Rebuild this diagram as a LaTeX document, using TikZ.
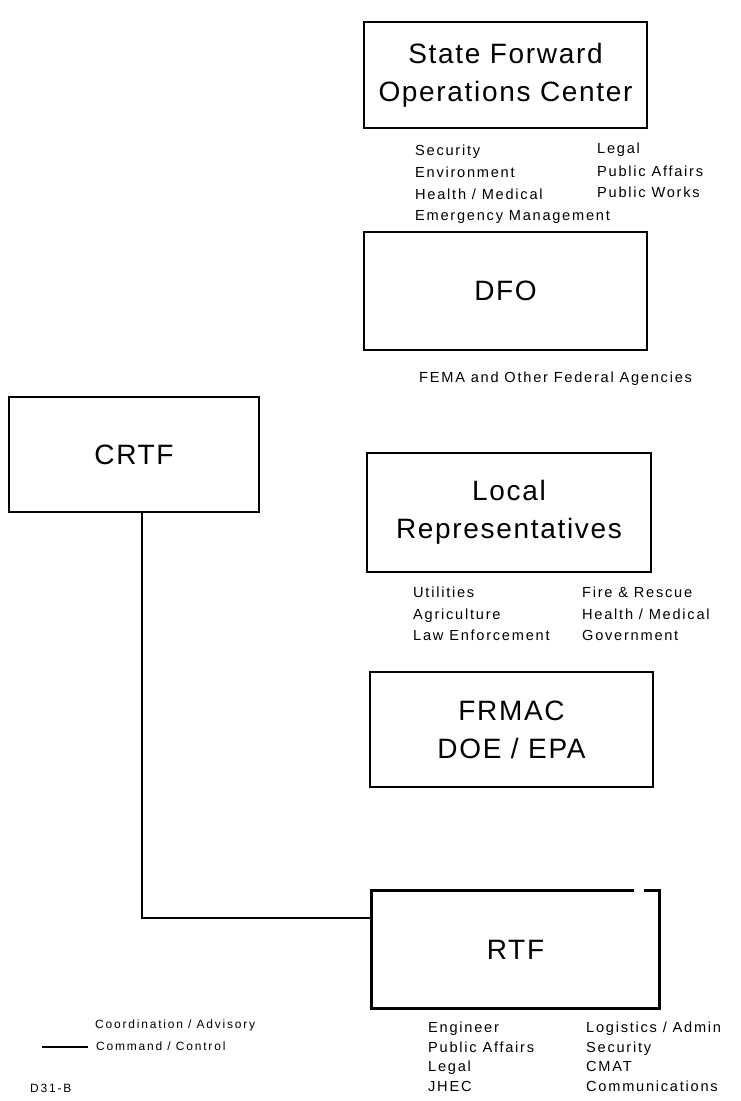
\documentclass[tikz,border=0pt]{standalone}
\usepackage{fontspec}
\setmainfont{Liberation Sans}
\newfontfamily\titlefont[LetterSpace=6]{Liberation Sans}
\newfontfamily\notefont[LetterSpace=12]{Liberation Sans}
\newfontfamily\legendfont[LetterSpace=15]{Liberation Sans}

\tikzset{
  unit/.style={draw, line width=2.8pt, inner sep=0pt, align=center,
    font=\titlefont\fontsize{28}{38}\selectfont},
  unitbare/.style={unit, draw=none},
  note/.style={anchor=base west, inner sep=0pt,
    font=\notefont\fontsize{14.6}{17}\selectfont},
  legendtext/.style={anchor=base west, inner sep=0pt,
    font=\legendfont\fontsize{12}{14}\selectfont},
  link/.style={line width=2.8pt},
}

\begin{document}
\begin{tikzpicture}[x=1pt, y=-1pt]
\useasboundingbox (0,0) rectangle (740,1101);

% organisation boxes
\node[unit, minimum width=283pt, minimum height=106pt] (sfoc) at (505.5,75)
  {State Forward\\Operations Center};
\node[unit, minimum width=283pt, minimum height=118pt] (dfo) at (505.5,291) {DFO};
\node[unit, minimum width=250pt, minimum height=115pt] (crtf) at (134,454.5) {CRTF};
\node[unit, minimum width=284pt, minimum height=119pt] (local) at (509,512.5)
  {Local\\Representatives};
\node[unit, minimum width=283pt, minimum height=115pt] (frmac) at (511.5,729.5)
  {FRMAC\\DOE / EPA};
\node[unitbare, minimum width=285pt, minimum height=115pt] (rtf) at (515.5,949.5) {RTF};
% RTF outline, open near its top right corner
\draw[line width=2.8pt, line join=miter]
  ([xshift=-25pt]rtf.north east) -- (rtf.north west) -- (rtf.south west)
  -- (rtf.south east) -- (rtf.north east) -- ([xshift=-15pt]rtf.north east);

% command / control link
\draw[link] ([xshift=8pt]crtf.south) |- ([yshift=31.5pt]rtf.west);

% State Forward Operations Center staff
\node[note] (s1) at (415,155.5) {Security};
\node[note] (s2) at (415,177.5) {Environment};
\node[note] (s3) at (415,199) {Health / Medical};
\node[note] (s4) at (415,220.5) {Emergency Management};
\node[note] (s5) at (597,153) {Legal};
\node[note] (s6) at (597,176) {Public Affairs};
\node[note] (s7) at (597,197) {Public Works};

% DFO
\node[note] (f1) at (419,382) {FEMA and Other Federal Agencies};

% local representatives
\node[note] (l1) at (413,597) {Utilities};
\node[note] (l2) at (413,619) {Agriculture};
\node[note] (l3) at (413,640) {Law Enforcement};
\node[note] (l4) at (582,597) {Fire \& Rescue};
\node[note] (l5) at (582,619) {Health / Medical};
\node[note] (l6) at (582,640) {Government};

% RTF staff
\node[note] (r1) at (428,1032) {Engineer};
\node[note] (r2) at (428,1052) {Public Affairs};
\node[note] (r3) at (428,1071) {Legal};
\node[note] (r4) at (428,1091) {JHEC};
\node[note] (r5) at (586,1032) {Logistics / Admin};
\node[note] (r6) at (586,1052) {Security};
\node[note] (r7) at (586,1071) {CMAT};
\node[note] (r8) at (586,1091) {Communications};

% legend
\node[legendtext] (k1) at (95,1028) {Coordination / Advisory};
\node[legendtext] (k2) at (96,1050) {Command / Control};
\coordinate (kstart) at (42,1047);
\draw[link] (kstart) -- ([xshift=-8pt]k2.west |- kstart);
\node[legendtext] (tag) at (30,1092) {D31-B};
\end{tikzpicture}
\end{document}
